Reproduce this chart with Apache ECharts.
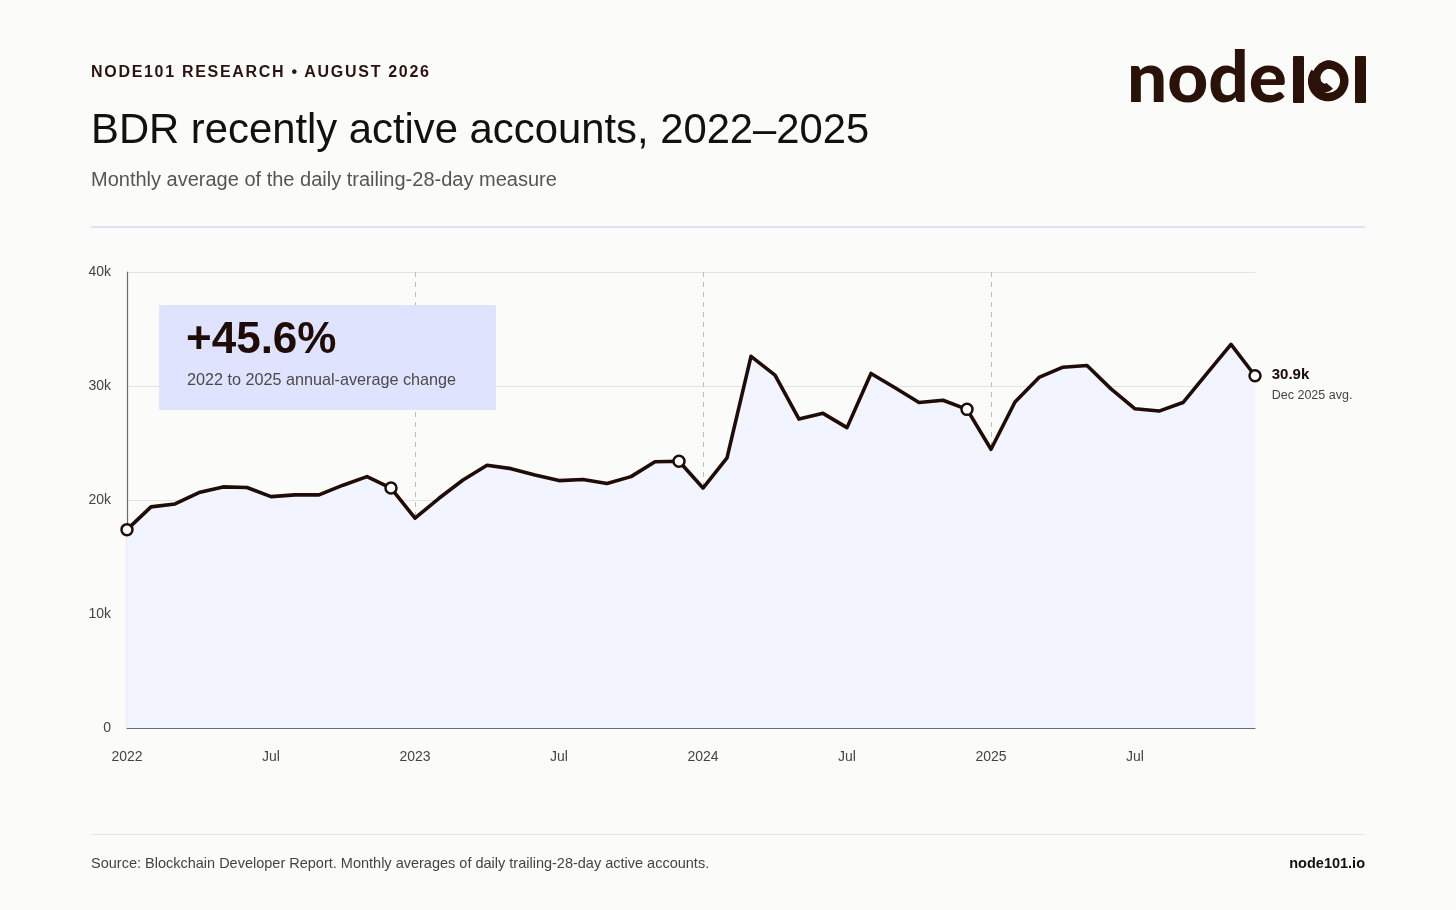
<!DOCTYPE html>
<html>
<head>
<meta charset="utf-8">
<script src="https://cdn.jsdelivr.net/npm/echarts@6/dist/echarts.min.js"></script>
<style>
  html, body { margin:0; padding:0; background:#fbfbf9; }
  #chart { position:absolute; left:0; top:0; width:1456px; height:910px; }
  #kicker { position:absolute; left:91px; top:63px; font-family:"Liberation Sans", Arial, sans-serif; font-weight:bold; font-size:16px; letter-spacing:1.7px; color:#2a1410; line-height:18px; white-space:nowrap; }
</style>
</head>
<body>
<div id="chart"></div>
<div id="kicker">NODE101 RESEARCH • AUGUST 2026</div>
<script>
// ---- data (thousands of accounts) ----
const months = [
  '2022-01','2022-02','2022-03','2022-04','2022-05','2022-06','2022-07','2022-08','2022-09','2022-10','2022-11','2022-12',
  '2023-01','2023-02','2023-03','2023-04','2023-05','2023-06','2023-07','2023-08','2023-09','2023-10','2023-11','2023-12',
  '2024-01','2024-02','2024-03','2024-04','2024-05','2024-06','2024-07','2024-08','2024-09','2024-10','2024-11','2024-12',
  '2025-01','2025-02','2025-03','2025-04','2025-05','2025-06','2025-07','2025-08','2025-09','2025-10','2025-11','2025-12'
];
const values2022 = [17.4, 19.4, 19.65, 20.65, 21.15, 21.1, 20.3, 20.45, 20.45, 21.3, 22.05, 21.05];
const values2023 = [18.4, 20.15, 21.75, 23.05, 22.75, 22.2, 21.7, 21.8, 21.45, 22.05, 23.35, 23.4];
const values2024 = [21.05, 23.7, 32.6, 30.95, 27.1, 27.6, 26.35, 31.1, 29.85, 28.55, 28.75, 27.95];
const values2025 = [24.45, 28.6, 30.75, 31.65, 31.8, 29.75, 28.0, 27.8, 28.55, 31.1, 33.65, 30.9];
const xTickLabels = {0:'2022', 6:'Jul', 12:'2023', 18:'Jul', 24:'2024', 30:'Jul', 36:'2025', 42:'Jul'};
const yTickLabels = {0:'0', 10:'10k', 20:'20k', 30:'30k', 40:'40k'};
const markedIdx = [0, 11, 23, 35, 47];
const headline = '+45.6%';
const headlineSub = '2022 to 2025 annual-average change';
const endValueLabel = '30.9k';
const endSubLabel = 'Dec 2025 avg.';

const values = [].concat(values2022, values2023, values2024, values2025);
const FONT = '"Liberation Sans", Arial, Helvetica, sans-serif';
const INK = '#1f0c07';
const LOGO = '#2a1208';

const seriesData = values.map((v, i) => {
  if (i === values.length - 1) {
    return {
      value: v,
      label: {
        show: true, position: 'right', distance: 10, offset: [0, 9],
        formatter: '{a|' + endValueLabel + '}\n{b|' + endSubLabel + '}',
        rich: {
          a: { fontFamily: FONT, fontWeight: 'bold', fontSize: 15, color: '#1a0a05', lineHeight: 22 },
          b: { fontFamily: FONT, fontSize: 12.5, color: '#444', lineHeight: 20 }
        }
      }
    };
  }
  return v;
});

// logo spiral (decorative path): outward clockwise spiral
const spiralPts = [];
(function () {
  const cx = 1328, cy = 81;
  const deg = Math.PI / 180;
  const thStart = -90 - 200, thTop = -90, thEnd = 215;
  for (let a = thStart; a <= thEnd; a += 5) {
    let r;
    if (a < thTop) r = 5 + (16.5 - 5) * (a - thStart) / (thTop - thStart);
    else r = 16.5 - 0.8 * (a - thTop) / (thEnd - thTop);
    spiralPts.push([cx + r * Math.cos(a * deg), cy + r * Math.sin(a * deg)]);
  }
})();

const chart = echarts.init(document.getElementById('chart'), null, { renderer: 'canvas' });
chart.setOption({
  backgroundColor: '#fbfbf9',
  animation: false,
  grid: { left: 127, right: 201, top: 272, bottom: 182, containLabel: false },
  xAxis: {
    type: 'category',
    data: months,
    boundaryGap: false,
    axisLine: { show: true, lineStyle: { color: '#6b6b6b', width: 1.2 } },
    axisTick: { show: false },
    axisLabel: {
      interval: 0,
      margin: 22,
      fontFamily: FONT, fontSize: 14, color: '#444',
      formatter: (v, i) => xTickLabels[i] || ''
    },
    splitLine: {
      show: true,
      interval: (i) => i > 0 && i % 12 === 0,
      lineStyle: { color: '#bdbdbd', type: [5, 5], width: 1 }
    }
  },
  yAxis: {
    type: 'value',
    min: 0, max: 40, interval: 10,
    axisLine: { show: true, lineStyle: { color: '#6b6b6b', width: 1.2 } },
    axisTick: { show: false },
    axisLabel: {
      margin: 16,
      fontFamily: FONT, fontSize: 14, color: '#444',
      formatter: (v) => yTickLabels[v] !== undefined ? yTickLabels[v] : ''
    },
    splitLine: { show: true, lineStyle: { color: '#e3e3e3', width: 1 } }
  },
  series: [{
    type: 'line',
    data: seriesData,
    smooth: false,
    showAllSymbol: true,
    symbol: 'circle',
    symbolSize: (val, p) => markedIdx.indexOf(p.dataIndex) >= 0 ? 11 : 0,
    itemStyle: { color: '#ffffff', borderColor: INK, borderWidth: 2.5 },
    lineStyle: { color: INK, width: 3.6, join: 'round' },
    areaStyle: { color: '#f2f5ff', opacity: 1 },
    emphasis: { disabled: true },
    z: 3
  }],
  graphic: [
    // title & subtitle
    { type: 'text', x: 91, y: 131, style: { text: 'BDR recently active accounts, 2022–2025', font: '41.8px ' + FONT, fill: '#111', verticalAlign: 'middle' } },
    { type: 'text', x: 91, y: 180, style: { text: 'Monthly average of the daily trailing-28-day measure', font: '20px ' + FONT, fill: '#555', verticalAlign: 'middle' } },
    // separator
    { type: 'rect', shape: { x: 91, y: 226, width: 1274, height: 2 }, style: { fill: '#dde3fb' } },
    // annotation box
    { type: 'rect', shape: { x: 159, y: 305, width: 337, height: 105 }, style: { fill: '#dfe3fd' }, z: 10 },
    { type: 'text', x: 186, y: 341, style: { text: headline, font: 'bold 44px ' + FONT, fill: '#1f0c07', verticalAlign: 'middle' }, z: 11 },
    { type: 'text', x: 187, y: 381, style: { text: headlineSub, font: '16.2px ' + FONT, fill: '#4a4a4a', verticalAlign: 'middle' }, z: 11 },
    // footer
    { type: 'rect', shape: { x: 91, y: 834, width: 1274, height: 1 }, style: { fill: '#e4e4e4' } },
    { type: 'text', x: 91, y: 864, style: { text: 'Source: Blockchain Developer Report. Monthly averages of daily trailing-28-day active accounts.', font: '14.5px ' + FONT, fill: '#444', verticalAlign: 'middle' } },
    { type: 'text', x: 1365, y: 864, style: { text: 'node101.io', font: 'bold 14.5px ' + FONT, fill: '#111', align: 'right', verticalAlign: 'middle' } },
    // logo
    { type: 'text', x: 1127, y: 44, style: { text: 'node', font: '900 71px Lato, "Liberation Sans", sans-serif', fill: LOGO } },
    { type: 'rect', shape: { x: 1293, y: 56, width: 11, height: 47, r: 1 }, style: { fill: LOGO } },
    { type: 'polyline', shape: { points: spiralPts }, style: { stroke: LOGO, lineWidth: 8.5, fill: null, lineCap: 'butt', lineJoin: 'round' } },
    { type: 'rect', shape: { x: 1355, y: 56, width: 11, height: 47, r: 1 }, style: { fill: LOGO } }
  ]
});
</script>
</body>
</html>
